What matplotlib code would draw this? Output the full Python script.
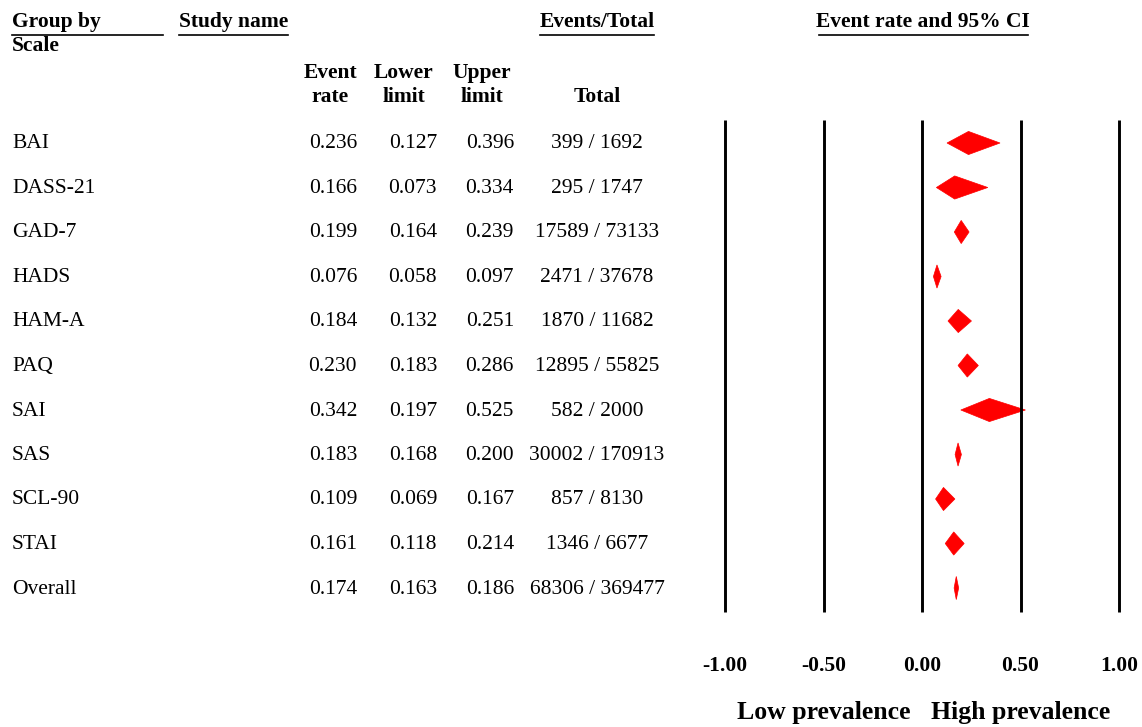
import matplotlib.pyplot as plt
from matplotlib.patches import Polygon
from matplotlib.lines import Line2D

plt.rcParams['font.family'] = ['Liberation Serif', 'DejaVu Serif']

# data
scales = ['BAI', 'DASS-21', 'GAD-7', 'HADS', 'HAM-A', 'PAQ', 'SAI', 'SAS', 'SCL-90', 'STAI', 'Overall']
rate = [0.236, 0.166, 0.199, 0.076, 0.184, 0.230, 0.342, 0.183, 0.109, 0.161, 0.174]
lower = [0.127, 0.073, 0.164, 0.058, 0.132, 0.183, 0.197, 0.168, 0.069, 0.118, 0.163]
upper = [0.396, 0.334, 0.239, 0.097, 0.251, 0.286, 0.525, 0.200, 0.167, 0.214, 0.186]
events = [399, 295, 17589, 2471, 1870, 12895, 582, 30002, 857, 1346, 68306]
totals = [1692, 1747, 73133, 37678, 11682, 55825, 2000, 170913, 8130, 6677, 369477]
xticks = [-1.0, -0.5, 0.0, 0.5, 1.0]

W, H = 1142, 727
fig = plt.figure(figsize=(W / 100, H / 100), dpi=100)


def fy(py):
    return 1 - py / H


def fx(px):
    return px / W


# forest axes, pixel layout: -1 -> 726px, 1 -> 1120px, rows start at 143px, step 44.5px
upp = 197.0
row_h = 44.5
xl, xr = -1.06, 1.06
left_px = 922 - 1.06 * upp
top_px, bot_px = 110, 620
ax = fig.add_axes([fx(left_px), fy(bot_px), (xr - xl) * upp / W, (bot_px - top_px) / H])
ax.set_xlim(xl, xr)
y_top = (top_px - 143) / row_h
y_bot = (bot_px - 143) / row_h
ax.set_ylim(y_bot, y_top)
for s in ax.spines.values():
    s.set_visible(False)
ax.set_yticks([])
ax.set_xticks(xticks)
ax.set_xticklabels(['%.2f' % t for t in xticks], fontsize=15.5, fontweight='bold')
ax.tick_params(axis='x', length=0, pad=26)

ax.vlines(xticks, (120 - 143) / row_h, (612 - 143) / row_h, color='black', lw=2.1)

hh = 0.26
for i in range(len(scales)):
    poly = Polygon([(lower[i], i), (rate[i], i - hh), (upper[i], i), (rate[i], i + hh)],
                   closed=True, facecolor='#ff0000', edgecolor='#ff0000', lw=0.5)
    ax.add_patch(poly)

# table text
fs = 15.5
for i, name in enumerate(scales):
    py = 144 + row_h * i
    fig.text(fx(12), fy(py), name, fontsize=fs, va='center', ha='left')
    fig.text(fx(357), fy(py), '%.3f' % rate[i], fontsize=fs, va='center', ha='right')
    fig.text(fx(437), fy(py), '%.3f' % lower[i], fontsize=fs, va='center', ha='right')
    fig.text(fx(514), fy(py), '%.3f' % upper[i], fontsize=fs, va='center', ha='right')
    fig.text(fx(597), fy(py), '%d / %d' % (events[i], totals[i]), fontsize=fs, va='center', ha='center')

# headers
hb = dict(fontsize=15.5, fontweight='bold', va='center')
fig.text(fx(12), fy(22), 'Group by', ha='left', **hb)
fig.text(fx(12), fy(46), 'Scale', ha='left', **hb)
fig.text(fx(179), fy(22), 'Study name', ha='left', **hb)
fig.text(fx(597), fy(22), 'Events/Total', ha='center', **hb)
fig.text(fx(923), fy(22), 'Event rate and 95% CI', ha='center', **hb)
fig.text(fx(330), fy(73), 'Event', ha='center', **hb)
fig.text(fx(330), fy(97), 'rate', ha='center', **hb)
fig.text(fx(404), fy(73), 'Lower', ha='center', **hb)
fig.text(fx(404), fy(97), 'limit', ha='center', **hb)
fig.text(fx(482), fy(73), 'Upper', ha='center', **hb)
fig.text(fx(482), fy(97), 'limit', ha='center', **hb)
fig.text(fx(597), fy(97), 'Total', ha='center', **hb)

# underlines
for x0, x1 in [(12, 163), (179, 288), (540, 654), (819, 1028)]:
    fig.add_artist(Line2D([fx(x0), fx(x1)], [fy(35), fy(35)], color='black', lw=1.2))

# bottom labels
fig.text(fx(824), fy(713), 'Low prevalence', ha='center', va='center', fontsize=18.5, fontweight='bold')
fig.text(fx(1021), fy(713), 'High prevalence', ha='center', va='center', fontsize=18.5, fontweight='bold')

fig.savefig('out.png', dpi=100)
